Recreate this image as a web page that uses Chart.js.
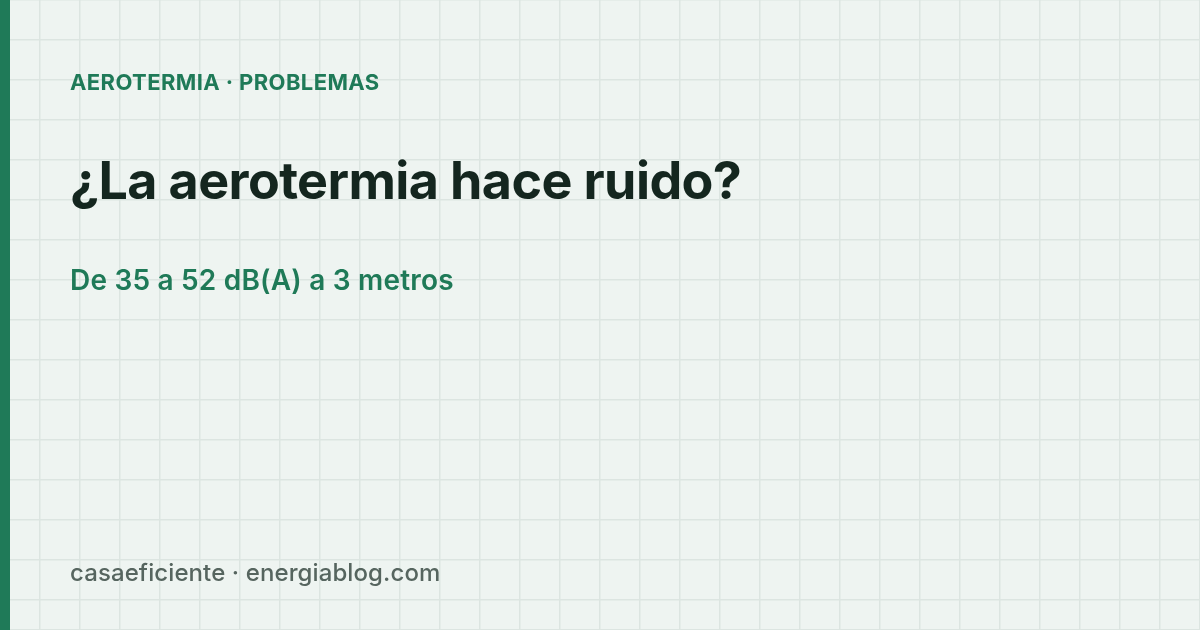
<!DOCTYPE html>
<html>
<head>
<meta charset="utf-8">
<script src="https://cdn.jsdelivr.net/npm/chart.js@4/dist/chart.umd.min.js"></script>
<style>
  html, body { margin: 0; padding: 0; background: #eef4f1; }
  #wrap { position: relative; width: 1200px; height: 630px; overflow: hidden; background: #eef4f1; }
  #c { position: absolute; left: 0; top: 0; }
  .bar { position: absolute; left: 0; top: 0; width: 10px; height: 630px; background: #1f7a58; }
  .t { position: absolute; left: 70px; line-height: 1; white-space: nowrap; font-family: Inter, "Noto Sans", sans-serif; }
  #kicker { top: 71px; font-size: 22px; font-weight: 700; color: #1f7a58; letter-spacing: 0.4px; }
  #title { top: 155px; font-size: 52px; font-weight: 700; color: #14261f; letter-spacing: -0.6px; }
  #sub { top: 265.5px; font-size: 28px; font-weight: 600; color: #1f7a58; letter-spacing: 0.2px; }
  #foot { top: 560.5px; font-size: 24px; font-weight: 500; color: #56655f; letter-spacing: 0.1px; }
</style>
</head>
<body>
<div id="wrap">
  <canvas id="c" width="1200" height="630"></canvas>
  <div class="bar"></div>
  <div class="t" id="kicker">AEROTERMIA · PROBLEMAS</div>
  <div class="t" id="title">¿La aerotermia hace ruido?</div>
  <div class="t" id="sub">De 35 a 52 dB(A) a 3 metros</div>
  <div class="t" id="foot">casaeficiente · energiablog.com</div>
</div>
<script>
// Background grid drawn as the scale grid of an empty chart
const xRange = [0, 1200];
const yRange = [0, 630];
const gridStep = [40];
const points = [];

new Chart(document.getElementById('c'), {
  type: 'scatter',
  data: { datasets: [{ data: points, pointRadius: 0 }] },
  options: {
    responsive: false,
    animation: false,
    devicePixelRatio: 1,
    layout: { padding: 0 },
    plugins: { legend: { display: false }, tooltip: { enabled: false } },
    scales: {
      x: {
        type: 'linear', min: xRange[0], max: xRange[1],
        ticks: { display: false, stepSize: gridStep[0] },
        grid: { color: '#dce5e1', lineWidth: 1.5, drawTicks: false },
        border: { display: false }
      },
      y: {
        type: 'linear', min: yRange[0], max: yRange[1], reverse: true,
        ticks: { display: false, stepSize: gridStep[0] },
        grid: { color: '#dce5e1', lineWidth: 1.5, drawTicks: false },
        border: { display: false }
      }
    }
  }
});
</script>
</body>
</html>
